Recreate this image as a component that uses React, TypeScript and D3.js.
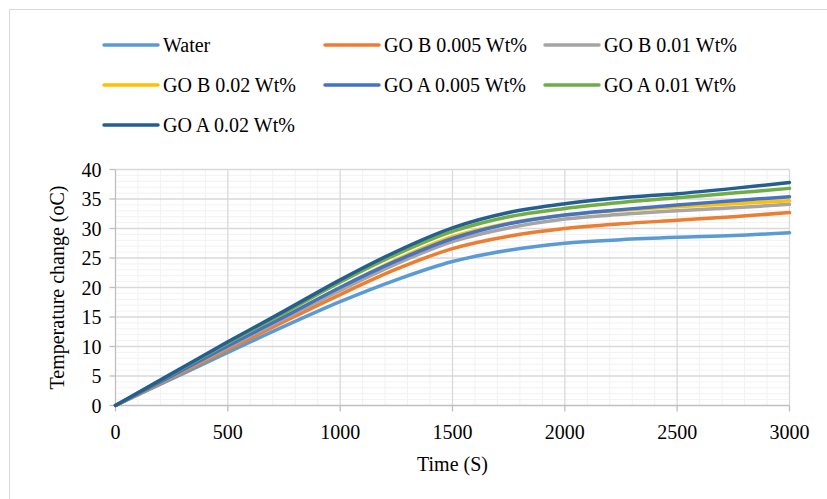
import * as d3 from "d3";
import React from "react";

// time in seconds
const times = [0, 250, 500, 750, 1000, 1250, 1500, 1750, 2000, 2250, 2500, 2750, 3000];

const water = [0, 4.5, 9.0, 13.4, 17.6, 21.3, 24.4, 26.3, 27.5, 28.1, 28.5, 28.8, 29.3];
const goB005 = [0, 4.7, 9.5, 14.2, 18.8, 23.1, 26.6, 28.7, 30.0, 30.8, 31.4, 32.0, 32.7];
const goB01 = [0, 4.9, 9.9, 14.7, 19.5, 24.0, 27.8, 30.1, 31.6, 32.4, 33.0, 33.5, 34.1];
const goB02 = [0, 5.1, 10.2, 15.1, 20.0, 24.7, 28.6, 30.9, 32.3, 33.1, 33.7, 34.2, 34.7];
const goA005 = [0, 5.0, 10.1, 15.0, 20.0, 24.5, 28.3, 30.8, 32.3, 33.2, 34.0, 34.7, 35.4];
const goA01 = [0, 5.3, 10.6, 15.7, 20.9, 25.6, 29.5, 32.0, 33.4, 34.4, 35.2, 36.0, 36.8];
const goA02 = [0, 5.4, 10.8, 16.0, 21.3, 26.1, 30.1, 32.7, 34.2, 35.2, 35.9, 36.8, 37.8];

const seriesNames = [
  "Water",
  "GO B 0.005 Wt%",
  "GO B 0.01 Wt%",
  "GO B 0.02 Wt%",
  "GO A 0.005 Wt%",
  "GO A 0.01 Wt%",
  "GO A 0.02 Wt%",
];
const seriesValues = [water, goB005, goB01, goB02, goA005, goA01, goA02];
const colors = ["#5B9BD5", "#ED7D31", "#A5A5A5", "#FFC000", "#4472C4", "#70AD47", "#255E91"];

const xTickValues = [0, 500, 1000, 1500, 2000, 2500, 3000];
const yTickValues = [0, 5, 10, 15, 20, 25, 30, 35, 40];

export default function App() {
  const width = 827;
  const height = 499;
  const plot = { left: 115.5, right: 789.5, top: 169.5, bottom: 405.5 };
  const font = "'Liberation Serif', 'Times New Roman', serif";

  const x = d3.scaleLinear().domain([0, 3000]).range([plot.left, plot.right]);
  const y = d3.scaleLinear().domain([0, 40]).range([plot.bottom, plot.top]);

  const line = d3
    .line<number>()
    .x((d, i) => x(times[i]))
    .y((d) => y(d))
    .curve(d3.curveCatmullRom.alpha(0.5));

  const minorX = d3.range(0, 3001, 100).filter((d) => d % 500 !== 0);
  const minorY = d3.range(0, 41, 1).filter((d) => d % 5 !== 0);

  // legend layout: 3 columns
  const legendCols = [104, 325, 545];
  const legendRows = [45, 85, 125];

  return (
    <svg
      width={width}
      height={height}
      style={{ position: "absolute", left: 0, top: 0, background: "white" }}
    >
      <rect x={9.5} y={9.5} width={840} height={520} fill="white" stroke="#d9d9d9" />

      {/* minor grid */}
      <g stroke="#f2f2f2" strokeWidth="1">
        {minorX.map((d) => (
          <line key={"mx" + d} x1={x(d)} x2={x(d)} y1={plot.top} y2={plot.bottom} />
        ))}
        {minorY.map((d) => (
          <line key={"my" + d} x1={plot.left} x2={plot.right} y1={y(d)} y2={y(d)} />
        ))}
      </g>
      {/* major grid */}
      <g stroke="#d9d9d9" strokeWidth="1.3">
        {xTickValues.slice(1).map((d) => (
          <line key={"gx" + d} x1={x(d)} x2={x(d)} y1={plot.top} y2={plot.bottom} />
        ))}
        {yTickValues.slice(1).map((d) => (
          <line key={"gy" + d} x1={plot.left} x2={plot.right} y1={y(d)} y2={y(d)} />
        ))}
      </g>

      {/* axes */}
      <g stroke="#bfbfbf" strokeWidth="1.3">
        <line x1={plot.left} x2={plot.left} y1={plot.top} y2={plot.bottom} />
        <line x1={plot.left} x2={plot.right} y1={plot.bottom} y2={plot.bottom} />
        {yTickValues.map((d) => (
          <line key={"ty" + d} x1={plot.left - 6} x2={plot.left} y1={y(d)} y2={y(d)} />
        ))}
        {xTickValues.map((d) => (
          <line key={"tx" + d} x1={x(d)} x2={x(d)} y1={plot.bottom} y2={plot.bottom + 6} />
        ))}
      </g>

      <g fontFamily={font} fontSize="20" fill="#000">
        {yTickValues.map((d) => (
          <text key={"ly" + d} x={plot.left - 14} y={y(d)} textAnchor="end" dominantBaseline="central">
            {d}
          </text>
        ))}
        {xTickValues.map((d) => (
          <text key={"lx" + d} x={x(d)} y={plot.bottom + 33} textAnchor="middle">
            {d}
          </text>
        ))}
        <text x={(plot.left + plot.right) / 2} y={471} textAnchor="middle">
          Time (S)
        </text>
        <text
          transform={`translate(64, ${(plot.top + plot.bottom) / 2}) rotate(-90)`}
          textAnchor="middle"
        >
          Temperature change (oC)
        </text>
      </g>

      {/* series */}
      <g fill="none" strokeWidth="3.5" strokeLinecap="round" strokeLinejoin="round">
        {seriesValues.map((vals, i) => (
          <path key={seriesNames[i]} d={line(vals) || ""} stroke={colors[i]} />
        ))}
      </g>

      {/* legend */}
      <g fontFamily={font} fontSize="20">
        {seriesNames.map((name, i) => {
          const lx = legendCols[i % 3];
          const ly = legendRows[Math.floor(i / 3)];
          return (
            <g key={"lg" + name}>
              <line
                x1={lx}
                x2={lx + 54}
                y1={ly}
                y2={ly}
                stroke={colors[i]}
                strokeWidth="3.5"
                strokeLinecap="round"
              />
              <text x={lx + 59} y={ly} dominantBaseline="central" fill="#000">
                {name}
              </text>
            </g>
          );
        })}
      </g>
    </svg>
  );
}
